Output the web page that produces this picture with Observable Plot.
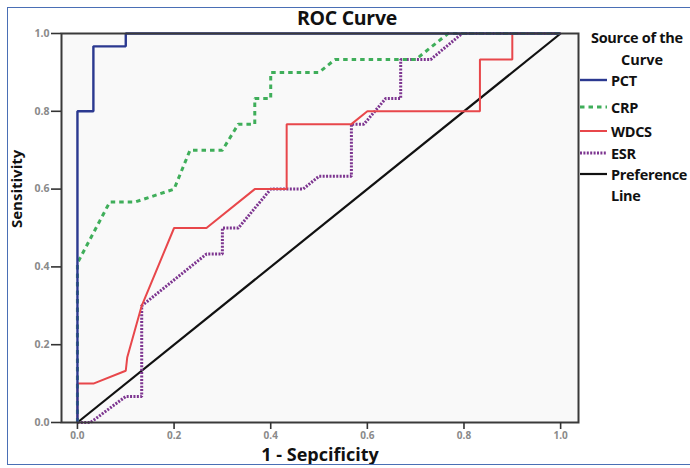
<!DOCTYPE html>
<html><head><meta charset="utf-8">
<script src="https://cdn.jsdelivr.net/npm/d3@7"></script>
<script src="https://cdn.jsdelivr.net/npm/@observablehq/plot@0.6"></script>
<style>
body{margin:0;background:#fff;overflow:hidden}
#wrap{position:relative;width:690px;height:468px;overflow:hidden;font-family:"Open Sans",sans-serif;background:#fff}
#border{position:absolute;left:7px;top:7px;width:700px;height:458px;border:1.5px solid #4a6fb5;box-sizing:border-box;pointer-events:none}
#title{position:absolute;left:0;width:694px;top:4px;text-align:center;font-weight:700;font-size:19.5px;color:#111;letter-spacing:-0.3px}
#legend{position:absolute;left:0;top:0}
</style></head><body><div id="wrap"><div id="border"></div><div id="title">ROC Curve</div></div>
<script>
// ROC curve coordinates (1 - specificity, sensitivity)
const pctFpr = [0, 0, 0.033, 0.033, 0.1, 0.1, 1];
const pctTpr = [0, 0.8, 0.8, 0.967, 0.967, 1, 1];
const crpFpr = [0, 0, 0.067, 0.12, 0.2, 0.233, 0.3, 0.333, 0.367, 0.367, 0.4, 0.4, 0.5, 0.533, 0.7, 0.767, 1];
const crpTpr = [0, 0.41, 0.567, 0.567, 0.6, 0.7, 0.7, 0.767, 0.767, 0.833, 0.833, 0.9, 0.9, 0.933, 0.933, 1, 1];
const wdcsFpr = [0, 0, 0.033, 0.1, 0.103, 0.133, 0.2, 0.267, 0.367, 0.433, 0.433, 0.567, 0.6, 0.833, 0.833, 0.9, 0.9, 1];
const wdcsTpr = [0, 0.1, 0.1, 0.133, 0.167, 0.3, 0.5, 0.5, 0.6, 0.6, 0.767, 0.767, 0.8, 0.8, 0.933, 0.933, 1, 1];
const esrFpr = [0, 0.027, 0.1, 0.133, 0.133, 0.267, 0.3, 0.3, 0.333, 0.4, 0.467, 0.5, 0.567, 0.567, 0.593, 0.638, 0.669, 0.669, 0.731, 0.796, 1];
const esrTpr = [0, 0, 0.067, 0.067, 0.3, 0.433, 0.433, 0.5, 0.5, 0.6, 0.6, 0.633, 0.633, 0.767, 0.767, 0.833, 0.833, 0.933, 0.933, 1, 1];
const refFpr = [0, 1];
const refTpr = [0, 1];

const seriesNames = ["PCT", "CRP", "WDCS", "ESR", "Preference Line"];
const seriesLabels = [["PCT"], ["CRP"], ["WDCS"], ["ESR"], ["Preference", "Line"]];
const seriesColors = ["#2b3990", "#3fae5a", "#e8474b", "#7d3590", "#111111"];
const seriesDash = [null, "4.5,4", null, "2,1.4", null];
const seriesWidth = [2.4, 3, 2, 3, 2.2];
const tickValues = [0, 0.2, 0.4, 0.6, 0.8, 1.0];
const tickLabels = ["0.0", "0.2", "0.4", "0.6", "0.8", "1.0"];

const fprs = [pctFpr, crpFpr, wdcsFpr, esrFpr, refFpr];
const tprs = [pctTpr, crpTpr, wdcsTpr, esrTpr, refTpr];
const tables = fprs.map((f, i) => f.map((x, j) => ({series: seriesNames[i], fpr: x, tpr: tprs[i][j]})));

const lines = tables.map((t, i) => Plot.line(t, {
  x: "fpr", y: "tpr",
  stroke: seriesColors[i], strokeWidth: seriesWidth[i],
  strokeDasharray: seriesDash[i] || undefined,
  strokeLinecap: "butt", strokeLinejoin: "miter"
}));
// draw reference first, then ESR, WDCS, CRP, PCT
const order = [4, 3, 2, 1, 0];

const chart = Plot.plot({
  width: 690, height: 468,
  marginLeft: 61, marginRight: 112, marginTop: 33, marginBottom: 46,
  style: {fontFamily: "'Open Sans', sans-serif", background: "transparent"},
  x: {domain: [-0.033, 1.037]},
  y: {domain: [0, 1]},
  marks: [
    Plot.frame({fill: "#f9f9f9", stroke: "none"}),
    ...order.map(i => lines[i]),
    Plot.frame({stroke: "#3a3a3a", strokeWidth: 2}),
    Plot.axisY({ticks: tickValues, tickFormat: (d, i) => tickLabels[i], tickSize: 10, tickPadding: 2,
      stroke: "#333", strokeWidth: 1.6, fill: "#8a8a8a", fontSize: 10.5, fontWeight: 700, label: null}),
    Plot.axisX({ticks: tickValues, tickFormat: (d, i) => tickLabels[i], tickSize: 7, tickPadding: 2,
      stroke: "#333", strokeWidth: 1.6, fill: "#8a8a8a", fontSize: 10, fontWeight: 700, label: null}),
    Plot.text(["1 - Sepcificity"], {frameAnchor: "bottom", dy: 38, fontSize: 18, fontWeight: 700, fill: "#111"}),
    Plot.text(["Sensitivity"], {frameAnchor: "left", dx: -44, rotate: -90, fontSize: 15, fontWeight: 700, fill: "#111"})
  ]
});
const wrap = document.getElementById("wrap");
wrap.insertBefore(chart, wrap.firstChild);

// legend
const lg = d3.select("#wrap").append("svg").attr("id", "legend").attr("width", 690).attr("height", 468)
  .style("font-family", "'Open Sans', sans-serif");
lg.append("text").attr("x", 591).attr("y", 43).attr("font-size", 14.5).attr("font-weight", 700).attr("fill", "#111").attr("letter-spacing", -0.3).text("Source of the");
lg.append("text").attr("x", 642).attr("y", 65).attr("text-anchor", "middle").attr("font-size", 14.5).attr("font-weight", 700).attr("fill", "#111").text("Curve");
const rowY = [80, 107, 131, 153, 174];
seriesNames.forEach((s, i) => {
  lg.append("line").attr("x1", 580).attr("x2", 607).attr("y1", rowY[i]).attr("y2", rowY[i])
    .attr("stroke", seriesColors[i]).attr("stroke-width", seriesWidth[i])
    .attr("stroke-dasharray", seriesDash[i]);
  seriesLabels[i].forEach((t, k) => {
    lg.append("text").attr("x", 611).attr("y", rowY[i] + 5.5 + k * 21).attr("font-size", 14.5)
      .attr("font-weight", 700).attr("fill", "#111").attr("letter-spacing", -0.3).text(t);
  });
});
</script></body></html>
